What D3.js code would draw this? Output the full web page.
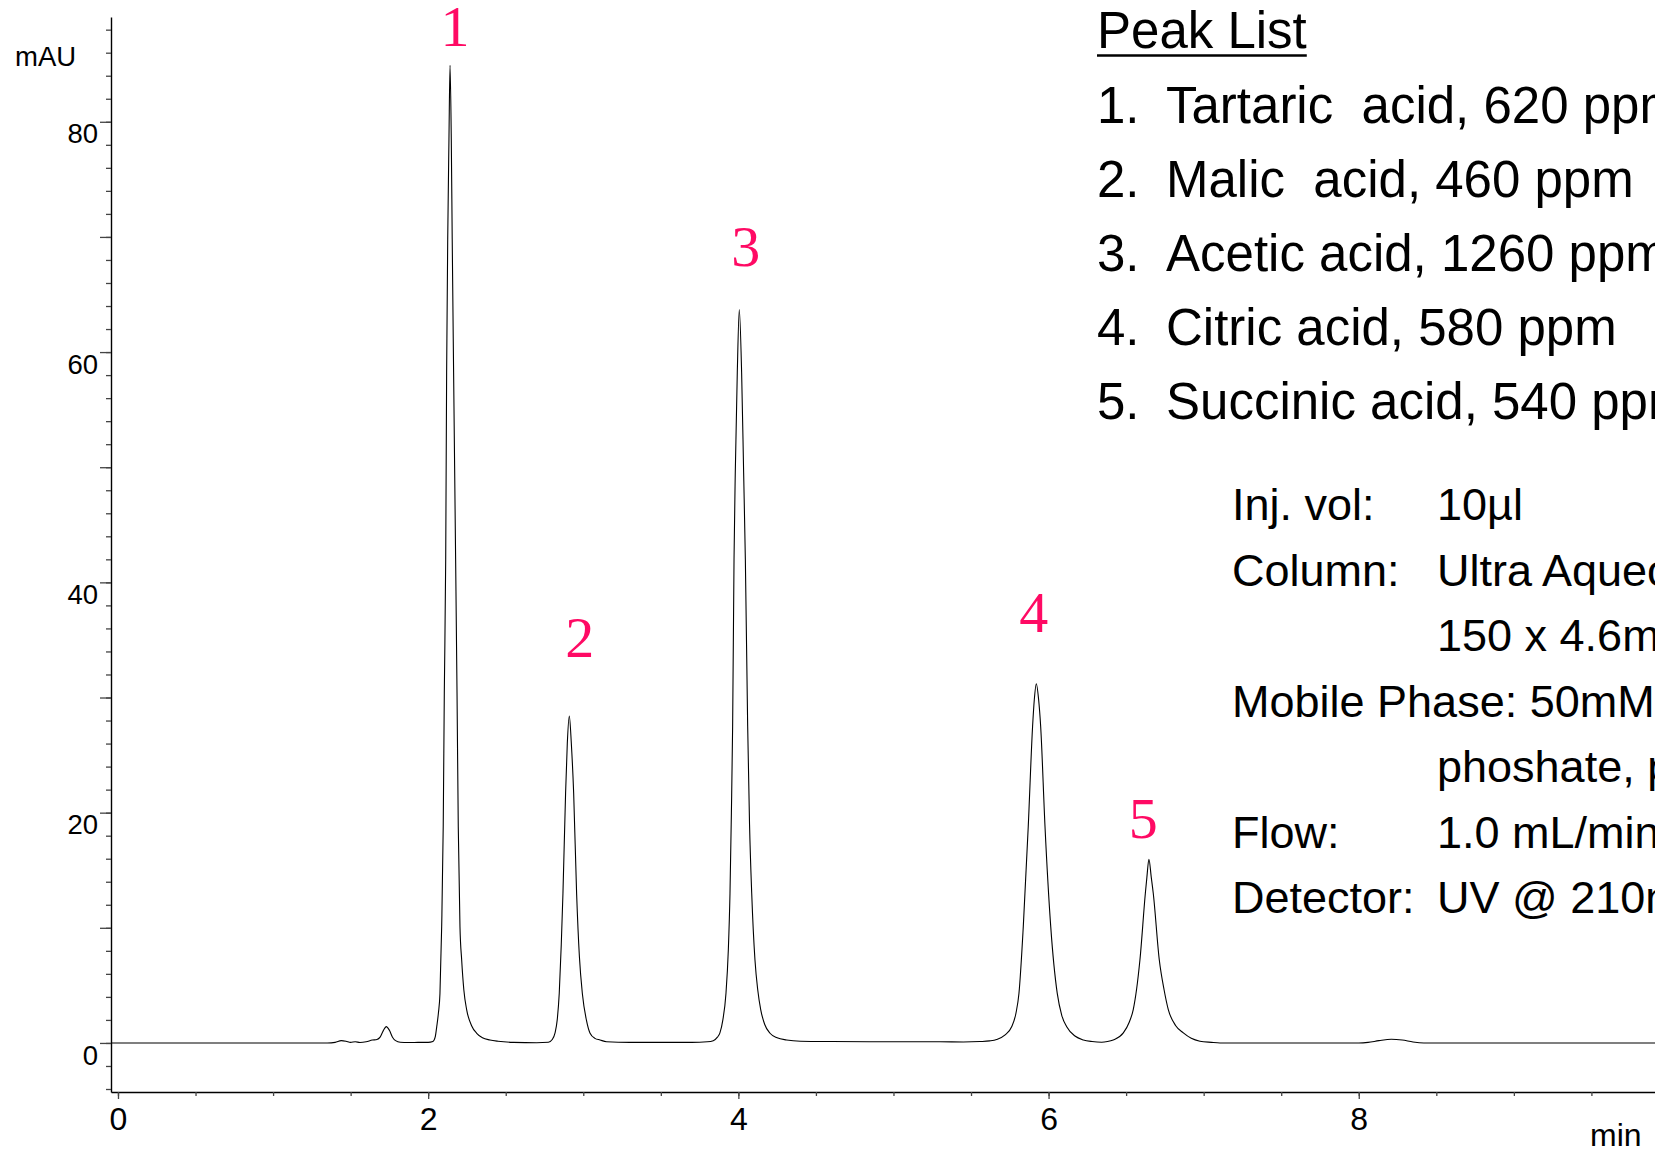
<!DOCTYPE html>
<html>
<head>
<meta charset="utf-8">
<script src="https://cdn.jsdelivr.net/npm/d3@7"></script>
<style>
  html, body { margin: 0; padding: 0; background: #fff; overflow: hidden; }
  svg { display: block; }
</style>
</head>
<body>
<svg id="chart" width="1655" height="1149"></svg>
<script>
// Chromatogram trace: retention time (min) and detector response (mAU)
const traceTime = [
  -0.04, 0.50, 1.00, 1.35, 1.40, 1.44, 1.47, 1.50, 1.53, 1.56, 1.60, 1.64, 1.67, 1.69, 1.71, 1.73, 1.75, 1.77, 1.79, 1.82, 1.87, 1.95, 2.00, 2.03,
  2.045, 2.055, 2.066, 2.076, 2.087, 2.097, 2.104, 2.113, 2.119, 2.126, 2.134, 2.141, 2.149, 2.155, 2.164, 2.177, 2.186, 2.194, 2.205, 2.216, 2.230, 2.248, 2.280, 2.313, 2.350, 2.398, 2.450, 2.550, 2.700,
  2.775, 2.800, 2.818, 2.832, 2.845, 2.858, 2.869, 2.886, 2.897, 2.910, 2.923, 2.938, 2.957, 2.975, 2.994, 3.020, 3.043, 3.075, 3.108, 3.150, 3.300, 3.500, 3.700, 3.800,
  3.838, 3.865, 3.881, 3.900, 3.920, 3.935, 3.946, 3.955, 3.963, 3.972, 3.980, 3.993, 4.006, 4.021, 4.034, 4.045, 4.060, 4.072, 4.086, 4.107, 4.125, 4.144, 4.170, 4.204, 4.250, 4.311, 4.400, 4.600, 5.000, 5.300, 5.450,
  5.558, 5.620, 5.665, 5.720, 5.762, 5.790, 5.809, 5.837, 5.869, 5.897, 5.908, 5.921, 5.936, 5.949, 5.977, 6.014, 6.056, 6.085, 6.117, 6.170, 6.224, 6.280, 6.342,
  6.380, 6.417, 6.482, 6.520, 6.546, 6.589, 6.624, 6.634, 6.647, 6.662, 6.675, 6.714, 6.745, 6.772, 6.820, 6.869, 6.920, 6.976, 7.050, 7.105,
  7.500, 8.000, 8.060, 8.130, 8.210, 8.280, 8.350, 8.420, 9.000, 9.500, 9.910
];
const traceMAU = [
  0.00, 0.00, 0.00, 0.00, 0.05, 0.20, 0.15, 0.05, 0.10, 0.04, 0.10, 0.25, 0.30, 0.50, 1.05, 1.42, 1.10, 0.50, 0.20, 0.06, 0.04, 0.05, 0.05, 0.12,
  0.50, 1.40, 2.60, 4.30, 10.1, 18.8, 30.4, 42.0, 58.2, 69.8, 78.5, 84.9, 78.5, 69.8, 58.2, 42.0, 30.4, 18.8, 10.1, 7.2, 4.6, 2.9, 1.5, 0.84, 0.45, 0.26, 0.15, 0.05, 0.02,
  0.06, 0.30, 0.87, 2.0, 4.3, 8.5, 13.0, 21.7, 26.0, 28.4, 26.0, 21.7, 13.0, 7.5, 4.3, 2.0, 0.87, 0.40, 0.26, 0.10, 0.05, 0.05, 0.05, 0.10,
  0.20, 0.50, 0.87, 2.0, 4.3, 8.0, 13.0, 20.0, 27.5, 42.0, 49.5, 58.2, 63.7, 58.2, 49.5, 42.0, 27.5, 19.0, 13.0, 7.2, 4.6, 2.9, 1.6, 0.84, 0.45, 0.26, 0.15, 0.12, 0.10, 0.10, 0.08,
  0.12, 0.18, 0.30, 0.70, 1.4, 2.6, 4.3, 10.1, 18.8, 27.5, 29.8, 31.2, 29.8, 27.5, 18.8, 10.1, 4.3, 2.4, 1.4, 0.60, 0.26, 0.12, 0.06,
  0.12, 0.26, 0.87, 1.8, 2.9, 7.2, 13.0, 14.4, 15.96, 14.4, 13.0, 7.2, 4.6, 2.9, 1.5, 0.87, 0.40, 0.15, 0.05, 0.00,
  0.00, 0.00, 0.05, 0.20, 0.32, 0.25, 0.08, 0.00, 0.00, 0.00, 0.00
];

// Peak number annotations (anchor: retention time, mAU of label baseline)
const peakIds = ["1", "2", "3", "4", "5"];
const peakLabelTime = [2.173, 2.977, 4.048, 5.904, 6.611];
const peakLabelMAU = [86.6, 33.5, 67.5, 35.65, 17.84];

// Axis ticks
const xMajorTicks = [0, 2, 4, 6, 8];
const xMinorTicks = d3.range(0, 9.91, 0.5);
const yLabelTicks = [0, 20, 40, 60, 80];
const yMediumTicks = d3.range(0, 81, 10);
const yMinorTicks = d3.range(-4, 89, 2);

// Peak list and run conditions
const peakListTitle = "Peak List";
const peakNumbers = ["1.", "2.", "3.", "4.", "5."];
const peakNames = [
  "Tartaric  acid, 620 ppm",
  "Malic  acid, 460 ppm",
  "Acetic acid, 1260 ppm",
  "Citric acid, 580 ppm",
  "Succinic acid, 540 ppm"
];
const conditionNames = ["Inj. vol:", "Column:", "", "Mobile Phase: 50mM potassium", "", "Flow:", "Detector:"];
const conditionValues = ["10µl", "Ultra Aqueous C18", "150 x 4.6mm, 5µm", "", "phoshate, pH 2.5", "1.0 mL/min", "UV @ 210nm"];

const svg = d3.select("#chart");
const sans = "'Liberation Sans', Arial, Helvetica, sans-serif";
const serif = "'Liberation Serif', 'Times New Roman', serif";

const x = d3.scaleLinear().domain([-0.045, 9.91]).range([111, 1655]);
const y = d3.scaleLinear().domain([-4.26, 89.1]).range([1092, 17]);

// ---- Y axis ----
const yMinor = svg.append("g").attr("transform", "translate(111,0)")
  .call(d3.axisLeft(y).tickValues(yMinorTicks).tickSize(5).tickSizeOuter(0).tickFormat(""));
const yMed = svg.append("g").attr("transform", "translate(111,0)")
  .call(d3.axisLeft(y).tickValues(yMediumTicks).tickSize(11).tickSizeOuter(0)
    .tickPadding(2)
    .tickFormat(d => yLabelTicks.includes(d) ? d3.format("d")(d) : ""));
yMed.select(".domain").remove();
yMinor.select(".domain").attr("stroke", "#000").attr("stroke-width", 1.4);
svg.selectAll("g .tick line").attr("stroke", "#444").attr("stroke-width", 1.3);
yMed.selectAll(".tick text")
  .attr("font-family", sans).attr("font-size", 27.5).attr("fill", "#000")
  .attr("dy", "0.77em");

svg.append("text")
  .attr("x", 15).attr("y", 66)
  .attr("font-family", sans).attr("font-size", 27.5).attr("fill", "#000")
  .text("mAU");

// ---- X axis ----
const xMinor = svg.append("g").attr("transform", "translate(0,1092)")
  .call(d3.axisBottom(x).tickValues(xMinorTicks).tickSize(4).tickSizeOuter(0).tickFormat(""));
const xMajor = svg.append("g").attr("transform", "translate(0,1092)")
  .call(d3.axisBottom(x).tickValues(xMajorTicks).tickSize(7).tickSizeOuter(0).tickFormat(d3.format("d")));
xMajor.select(".domain").remove();
xMinor.select(".domain").attr("stroke", "#000").attr("stroke-width", 1.4);
svg.selectAll("g .tick line").attr("stroke", "#444").attr("stroke-width", 1.3);
xMajor.selectAll(".tick text")
  .attr("font-family", sans).attr("font-size", 32).attr("fill", "#000")
  .attr("y", 38).attr("dy", 0);

svg.append("text")
  .attr("x", 1590).attr("y", 1146)
  .attr("font-family", sans).attr("font-size", 32).attr("fill", "#000")
  .text("min");

// ---- Trace ----
const trace = traceTime.map((t, i) => [t, traceMAU[i]]);
svg.append("path")
  .datum(trace)
  .attr("fill", "none")
  .attr("stroke", "#000")
  .attr("stroke-width", 1.1)
  .attr("stroke-linejoin", "round")
  .attr("d", d3.line().x(d => x(d[0])).y(d => y(d[1])).curve(d3.curveMonotoneX));

// ---- Peak numbers ----
svg.append("g").selectAll("text")
  .data(peakIds)
  .join("text")
  .attr("x", (d, i) => x(peakLabelTime[i]))
  .attr("y", (d, i) => y(peakLabelMAU[i]))
  .attr("text-anchor", "middle")
  .attr("font-family", serif).attr("font-size", 58).attr("fill", "#ff0a64")
  .text(d => d);

// ---- Peak list ----
const list = svg.append("g").attr("font-family", sans).attr("fill", "#000");
const title = list.append("text")
  .attr("x", 1097).attr("y", 48).attr("font-size", 51)
  .text(peakListTitle);
const titleW = title.node().getComputedTextLength();
list.append("line")
  .attr("x1", 1097).attr("x2", 1097 + titleW)
  .attr("y1", 55.5).attr("y2", 55.5)
  .attr("stroke", "#000").attr("stroke-width", 2.6);

const itemY = i => 123 + i * 74;
list.selectAll("text.num")
  .data(peakNumbers).join("text").attr("class", "num")
  .attr("x", 1097).attr("y", (d, i) => itemY(i)).attr("font-size", 51)
  .text(d => d);
list.selectAll("text.name")
  .data(peakNames).join("text").attr("class", "name")
  .attr("x", 1166).attr("y", (d, i) => itemY(i)).attr("font-size", 51)
  .attr("xml:space", "preserve").style("white-space", "pre")
  .text(d => d);

// ---- Run conditions ----
const condY = i => 520 + i * 65.5;
const cond = svg.append("g").attr("font-family", sans).attr("font-size", 45).attr("fill", "#000");
cond.selectAll("text.cname")
  .data(conditionNames).join("text").attr("class", "cname")
  .attr("x", 1232).attr("y", (d, i) => condY(i))
  .text(d => d);
cond.selectAll("text.cval")
  .data(conditionValues).join("text").attr("class", "cval")
  .attr("x", 1437).attr("y", (d, i) => condY(i))
  .text(d => d);
</script>
</body>
</html>
